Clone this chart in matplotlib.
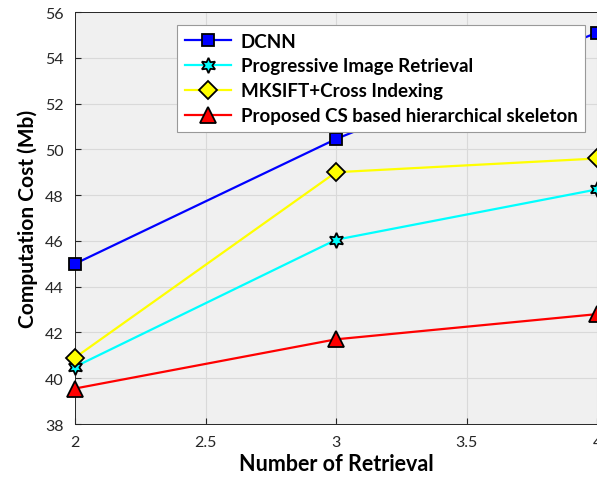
import numpy as np
from matplotlib import pyplot as plt

retrievals = [2, 3, 4]
dcnn = [45.0, 50.45, 55.1]
progressive = [40.5, 46.05, 48.25]
mksift = [40.9, 49.0, 49.6]
proposed = [39.55, 41.7, 42.8]

labels = ["DCNN", "Progressive Image Retrieval", "MKSIFT+Cross Indexing",
          "Proposed CS based hierarchical skeleton"]

plt.rcParams['font.family'] = ['Lato', 'DejaVu Sans']

fig = plt.figure(figsize=(5.97, 4.85), dpi=100)
ax = fig.add_axes([75 / 597, 60 / 485, 522 / 597, 412 / 485])
ax.set_facecolor('#f0f0f0')

ax.plot(retrievals, dcnn, color='blue', lw=1.6, marker='s', markersize=8.5,
        markerfacecolor='blue', markeredgecolor='black', markeredgewidth=1.3,
        label=labels[0], clip_on=False, zorder=3)
ax.plot(retrievals, progressive, color='cyan', lw=1.6, marker=(6, 1, 0), markersize=11,
        markerfacecolor='cyan', markeredgecolor='black', markeredgewidth=1.3,
        label=labels[1], clip_on=False, zorder=3)
ax.plot(retrievals, mksift, color='yellow', lw=1.6, marker='D', markersize=9.5,
        markerfacecolor='yellow', markeredgecolor='black', markeredgewidth=1.3,
        label=labels[2], clip_on=False, zorder=3)
ax.plot(retrievals, proposed, color='red', lw=1.6, marker='^', markersize=12,
        markerfacecolor='red', markeredgecolor='black', markeredgewidth=1.3,
        label=labels[3], clip_on=False, zorder=3)

ax.set_xlim(2, 4)
ax.set_ylim(38, 56)
ax.set_xticks([2, 2.5, 3, 3.5, 4])
ax.set_xticklabels(['2', '2.5', '3', '3.5', '4'])
ax.set_yticks(np.arange(38, 57, 2))
ax.grid(True, color='#d9d9d9', lw=0.8)
ax.set_axisbelow(True)
ax.tick_params(direction='in', length=4, labelsize=11.5, colors='#262626', pad=8)
for s in ax.spines.values():
    s.set_color('#262626')
    s.set_linewidth(0.7)

ax.set_xlabel('Number of Retrieval', fontsize=15.5, fontweight='bold', labelpad=3)
ax.set_ylabel('Computation Cost (Mb)', fontsize=15, fontweight='bold', labelpad=5)

leg = ax.legend(loc='upper left', bbox_to_anchor=((177 - 75) / 522, (425 - 26) / 412),
                borderaxespad=0, prop={'weight': 'bold', 'size': 13.5},
                fancybox=False, framealpha=1, edgecolor='#999999',
                handlelength=2.5, labelspacing=0.42, borderpad=0.4, handletextpad=0.5)
leg.get_frame().set_linewidth(0.8)

fig.savefig('out.png', dpi=100)
